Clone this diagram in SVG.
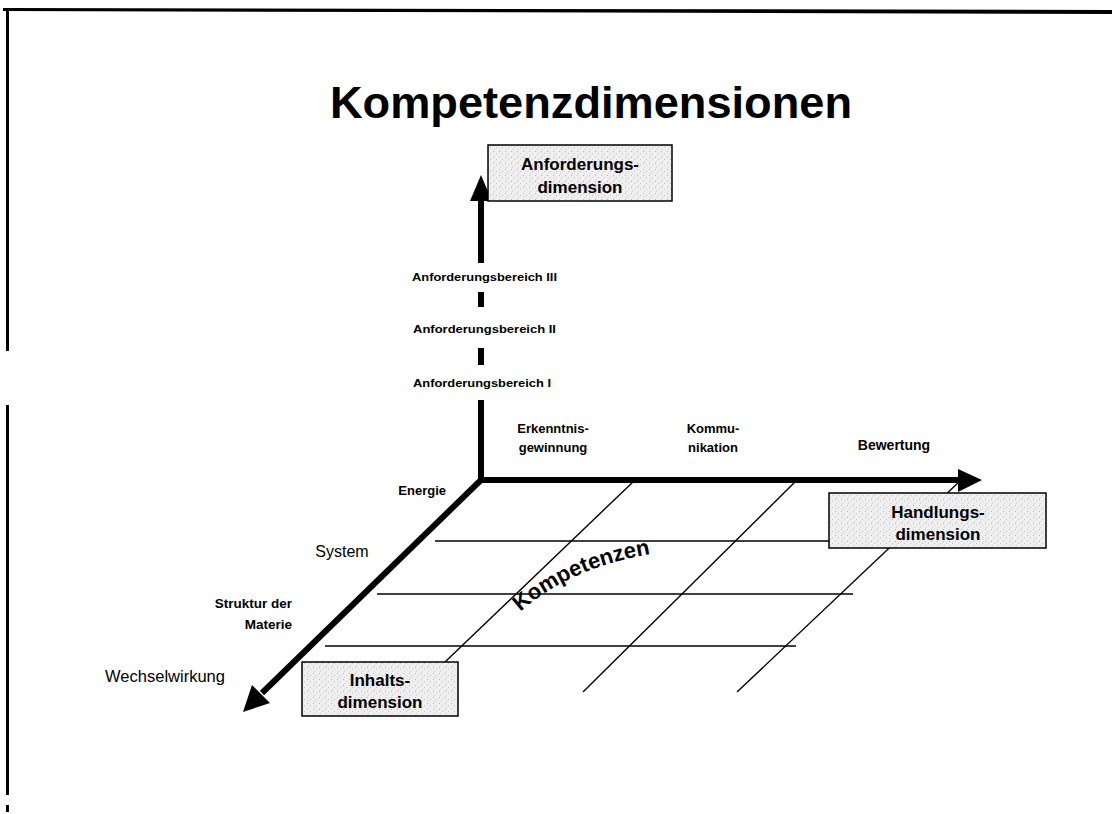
<svg xmlns="http://www.w3.org/2000/svg" width="1112" height="814" viewBox="0 0 1112 814">
<defs>
<style>
.b{font-family:"Liberation Sans",Arial,sans-serif;font-weight:bold;fill:#000}
.n{font-family:"Liberation Sans",Arial,sans-serif;fill:#000}
.axis{stroke:#000;stroke-width:6;fill:none}
.grid{stroke:#000;stroke-width:1.4;fill:none}
.box{fill:url(#stip);stroke:#000;stroke-width:1.5}
.head{fill:#000}
</style>
<pattern id="stip" width="6" height="6" patternUnits="userSpaceOnUse">
<rect width="6" height="6" fill="#efefef"/>
<rect x="1" y="1" width="1" height="1" fill="#b8b8b8"/>
<rect x="4" y="3" width="1" height="1" fill="#c4c4c4"/>
<rect x="2" y="5" width="1" height="1" fill="#d0d0d0"/>
</pattern>
<path id="arc" d="M 510,622 Q 565,565 665,552"/>
</defs>
<rect width="1112" height="814" fill="#fff"/>
<g id="frame" fill="#000">
<polygon points="3,8 1112,10 1112,14 3,11"/>
<rect x="6" y="9" width="3" height="342"/>
<rect x="6" y="405" width="3" height="390"/>
<rect x="6" y="805" width="3" height="7"/>
</g>
<text class="b" x="591" y="118" font-size="45" text-anchor="middle" textLength="522" lengthAdjust="spacingAndGlyphs">Kompetenzdimensionen</text>
<g id="connectors">
<line class="grid" x1="435" y1="541" x2="830" y2="541"/>
<line class="grid" x1="377" y1="594" x2="853" y2="594"/>
<line class="grid" x1="325" y1="646" x2="796" y2="646"/>
<line class="grid" x1="634" y1="481" x2="445" y2="662"/>
<line class="grid" x1="796" y1="481" x2="583" y2="692"/>
<line class="grid" x1="960" y1="481" x2="737" y2="692"/>
<line class="axis" x1="481" y1="480" x2="481" y2="400" stroke-width="5"/>
<line class="axis" x1="481" y1="365" x2="481" y2="348" stroke-width="5"/>
<line class="axis" x1="481" y1="307" x2="481" y2="292" stroke-width="5"/>
<line class="axis" x1="481" y1="263" x2="481" y2="198" stroke-width="5"/>
<polygon class="head" points="481,175 492,201 470,201"/>
<line class="axis" x1="478" y1="480" x2="960" y2="480"/>
<polygon class="head" points="982,480 958,469 958,492"/>
<line class="axis" x1="482" y1="479" x2="262" y2="693"/>
<polygon class="head" points="243,712 252,685 270,703"/>
</g>
<g id="anforderungsbereiche">
<text class="b" x="412" y="281" font-size="11.5" textLength="145" lengthAdjust="spacingAndGlyphs">Anforderungsbereich III</text>
<text class="b" x="413" y="333" font-size="11.5" textLength="143" lengthAdjust="spacingAndGlyphs">Anforderungsbereich II</text>
<text class="b" x="413" y="387" font-size="11.5" textLength="138" lengthAdjust="spacingAndGlyphs">Anforderungsbereich I</text>
</g>
<g id="handlungsbereiche">
<text class="b" x="553" y="433" font-size="13" text-anchor="middle">Erkenntnis-</text>
<text class="b" x="553" y="452" font-size="13" text-anchor="middle">gewinnung</text>
<text class="b" x="713" y="433" font-size="13" text-anchor="middle">Kommu-</text>
<text class="b" x="713" y="452" font-size="13" text-anchor="middle">nikation</text>
<text class="b" x="894" y="450" font-size="14" text-anchor="middle">Bewertung</text>
</g>
<g id="inhaltsbereiche">
<text class="b" x="446" y="495" font-size="13" text-anchor="end">Energie</text>
<text class="n" x="342" y="557" font-size="16" text-anchor="middle">System</text>
<text class="b" x="292" y="608" font-size="13.5" text-anchor="end">Struktur der</text>
<text class="b" x="292" y="629" font-size="13.5" text-anchor="end">Materie</text>
<text class="n" x="165" y="682" font-size="16.5" text-anchor="middle">Wechselwirkung</text>
</g>
<g id="anforderungsdimension">
<rect class="box" x="488" y="145" width="184" height="56"/>
<text class="b" x="580" y="170" font-size="17" text-anchor="middle">Anforderungs-</text>
<text class="b" x="580" y="193" font-size="17" text-anchor="middle">dimension</text>
</g>
<g id="handlungsdimension">
<rect class="box" x="829" y="493" width="217" height="55"/>
<text class="b" x="938" y="518" font-size="17" text-anchor="middle">Handlungs-</text>
<text class="b" x="938" y="540" font-size="17" text-anchor="middle">dimension</text>
</g>
<g id="inhaltsdimension">
<rect class="box" x="302" y="662" width="156" height="54"/>
<text class="b" x="380" y="686" font-size="17" text-anchor="middle">Inhalts-</text>
<text class="b" x="380" y="708" font-size="17" text-anchor="middle">dimension</text>
</g>
<g id="kompetenzen">
<text class="b" font-size="22"><textPath href="#arc" startOffset="50%" text-anchor="middle">Kompetenzen</textPath></text>
</g>
</svg>
